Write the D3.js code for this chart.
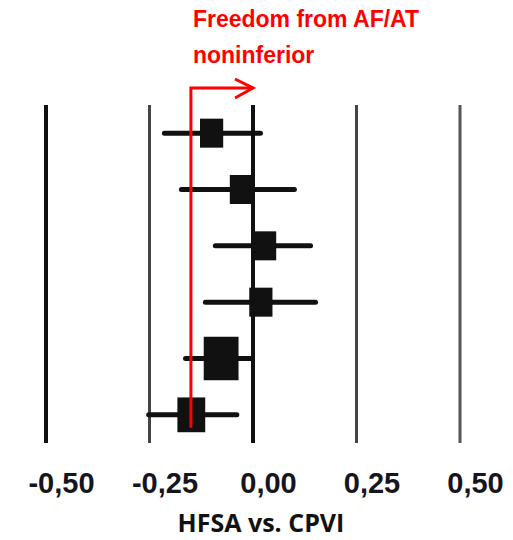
<!DOCTYPE html>
<html>
<head>
<meta charset="utf-8">
<script src="https://cdn.jsdelivr.net/npm/d3@7"></script>
<style>
  html, body { margin: 0; padding: 0; background: #fff; }
  svg { display: block; }
</style>
</head>
<body>
<script>
// forest plot rows (difference in freedom from AF/AT, HFSA vs. CPVI)
const rows = ["1", "2", "3", "4", "5", "6"];
const estimates = [-0.100, -0.028, 0.028, 0.019, -0.077, -0.149];
const lower = [-0.214, -0.173, -0.091, -0.115, -0.163, -0.252];
const upper = [0.018, 0.100, 0.139, 0.151, -0.005, -0.039];
const weights = [1.0, 1.0, 1.0, 1.0, 1.5, 1.2];
const xTicks = [-0.5, -0.25, 0, 0.25, 0.5];
const margin = -0.15;
const titleLines = ["Freedom from AF/AT", "noninferior"];
const axisTitle = "HFSA vs. CPVI";

const width = 513, height = 540;

const svg = d3.select("body").append("svg")
    .attr("width", width)
    .attr("height", height);

const x = d3.scaleLinear().domain([-0.5, 0.5]).range([46, 460]);
const y = d3.scalePoint().domain(rows).range([105, 443]).padding(0.5);
const boxH = d3.scaleLinear().domain([0, 1]).range([0, 29]);

const locale = d3.formatLocale({decimal: ",", thousands: ".", grouping: [3], currency: ["", ""], minus: "-"});
const fmt = locale.format(".2f");

// vertical grid lines
const gridStyle = new Map([
  [-0.5, {w: 4, c: "#111"}],
  [-0.25, {w: 3, c: "#444"}],
  [0, {w: 4, c: "#111"}],
  [0.25, {w: 3, c: "#444"}],
  [0.5, {w: 3, c: "#555"}]
]);

svg.append("g").attr("class", "grid")
  .selectAll("line")
  .data(xTicks)
  .join("line")
    .attr("x1", d => x(d))
    .attr("x2", d => x(d))
    .attr("y1", y.range()[0])
    .attr("y2", y.range()[1])
    .attr("stroke", d => gridStyle.get(d).c)
    .attr("stroke-width", d => gridStyle.get(d).w);

// tick labels
const axis = d3.axisBottom(x).tickValues(xTicks).tickFormat(fmt).tickSize(0).tickPadding(0);
const gAxis = svg.append("g")
    .attr("transform", `translate(0,${y.range()[1]})`)
    .call(axis);
gAxis.select(".domain").remove();
gAxis.selectAll("text")
    .attr("y", 50)
    .attr("dy", 0)
    .attr("dx", 15)
    .attr("fill", "#151520")
    .attr("font-family", "Liberation Sans, Arial, sans-serif")
    .attr("font-weight", "bold")
    .attr("font-size", 29);

// confidence intervals
const idx = d3.range(rows.length);
svg.append("g").attr("class", "ci")
  .selectAll("line")
  .data(idx)
  .join("line")
    .attr("x1", i => x(lower[i]))
    .attr("x2", i => x(upper[i]))
    .attr("y1", i => y(rows[i]))
    .attr("y2", i => y(rows[i]))
    .attr("stroke", "#111")
    .attr("stroke-width", 5)
    .attr("stroke-linecap", "round");

// point estimate boxes
svg.append("g").attr("class", "boxes")
  .selectAll("rect")
  .data(idx)
  .join("rect")
    .attr("x", i => x(estimates[i]) - boxH(weights[i]) * 0.4)
    .attr("y", i => y(rows[i]) - boxH(weights[i]) / 2)
    .attr("width", i => boxH(weights[i]) * 0.8)
    .attr("height", i => boxH(weights[i]))
    .attr("fill", "#111");

// noninferiority margin with arrow
const redY = 88;
const red = svg.append("g").attr("class", "margin")
    .attr("fill", "none")
    .attr("stroke", "#ff0000")
    .attr("stroke-width", 3);
red.append("path")
    .attr("d", `M${x(margin)},${y(rows[rows.length - 1]) + 13}V${redY}H${x(0)}`);
red.append("path")
    .attr("d", `M${x(0) - 18},${redY - 9}L${x(0)},${redY}L${x(0) - 18},${redY + 10}`)
    .attr("stroke-linejoin", "miter");

svg.append("g")
  .selectAll("text")
  .data(titleLines)
  .join("text")
    .attr("x", x(margin) + 2)
    .attr("y", (d, i) => 27 + i * 36)
    .attr("fill", "#ff0000")
    .attr("font-family", "Liberation Sans, Arial, sans-serif")
    .attr("font-weight", "bold")
    .attr("font-size", 23)
    .text(d => d);

svg.append("text")
    .attr("x", 261)
    .attr("y", 532)
    .attr("text-anchor", "middle")
    .attr("fill", "#111")
    .attr("font-family", "Open Sans, sans-serif")
    .attr("font-weight", "bold")
    .attr("font-size", 25)
    .text(axisTitle);
</script>
</body>
</html>
